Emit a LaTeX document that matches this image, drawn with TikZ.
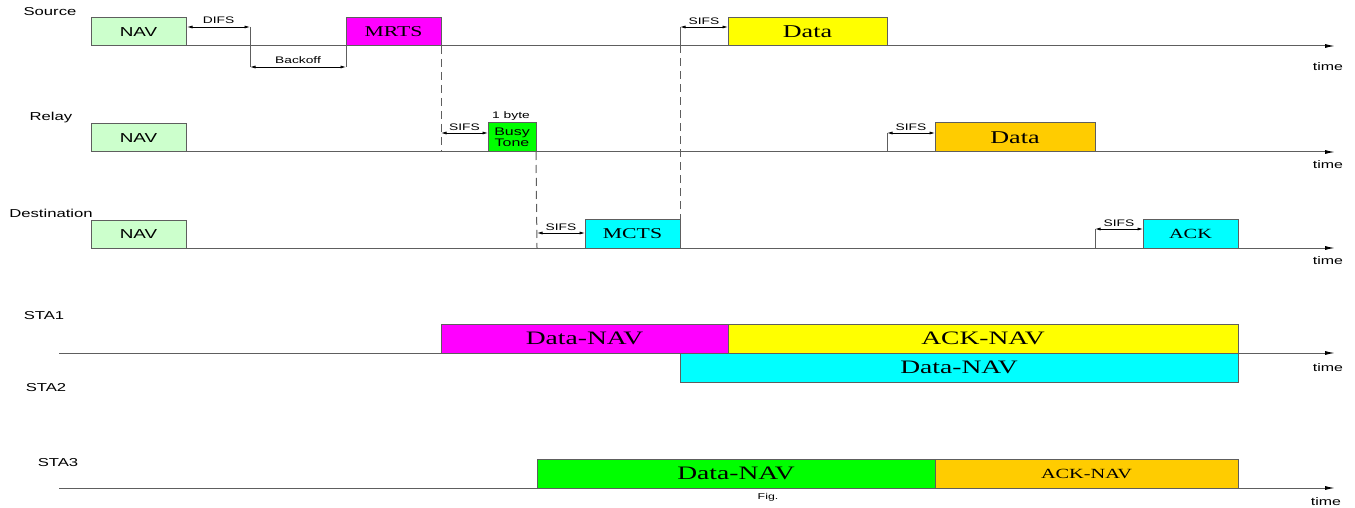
\documentclass[tikz,border=0pt]{standalone}
\usepackage{fontspec}
\setmainfont{Liberation Serif}[FakeStretch=1.45]
\newfontfamily\lsans{Liberation Sans}[FakeStretch=1.45]
\usetikzlibrary{arrows.meta}
\definecolor{navgreen}{HTML}{CCFFCC}
\definecolor{mag}{HTML}{FF00FF}
\definecolor{yel}{HTML}{FFFF00}
\definecolor{cya}{HTML}{00FFFF}
\definecolor{grn}{HTML}{00FF00}
\definecolor{ora}{HTML}{FFCC00}
\definecolor{linegray}{HTML}{5E5E5E}
\tikzset{
  box/.style={draw=linegray, line width=1pt, inner sep=0pt, outer sep=0pt, anchor=south west, text=black},
  tl/.style={draw=linegray, line width=1pt, -{Latex[length=10pt,width=4pt,black]}},
  lbl/.style={font=\lsans\fontsize{11.5}{12}\selectfont, inner sep=0pt},
  small/.style={font=\lsans\fontsize{9.5}{10}\selectfont, inner sep=0pt},
  tlabel/.style={font=\lsans\fontsize{11}{12}\selectfont, inner sep=0pt},
  dim/.style={draw=black, line width=0.7pt, {Latex[length=5.5pt,width=3pt]}-{Latex[length=5.5pt,width=3pt]}},
  vline/.style={draw=linegray, line width=1pt},
  dline/.style={draw=linegray, line width=1pt, dash pattern=on 8pt off 5pt},
}
\begin{document}
\begin{tikzpicture}[x=1pt,y=-1pt]
\useasboundingbox[fill=white] (0,0) rectangle (1355,508);
% row labels
\node[lbl] (lsrc) at (50,12) {Source};
\node[lbl] (lrel) at (51,118) {Relay};
\node[lbl] (ldst) at (51,213) {Destination};
\node[lbl] (lsta1) at (44,316) {STA1};
\node[lbl] (lsta2) at (46,388) {STA2};
\node[lbl] (lsta3) at (58,463) {STA3};
% timelines
\coordinate (s0) at (91,46); \coordinate (s1) at (1335,46);
\coordinate (r0) at (91,152); \coordinate (r1) at (1335,152);
\coordinate (d0) at (91,248); \coordinate (d1) at (1335,248);
\coordinate (a0) at (59,353); \coordinate (a1) at (1335,353);
\coordinate (c0) at (59,488); \coordinate (c1) at (1335,488);
\draw[tl] (s0) -- (s1);
\draw[tl] (r0) -- (r1);
\draw[tl] (d0) -- (d1);
\draw[tl] (a0) -- (a1);
\draw[tl] (c0) -- (c1);
\node[tlabel] (t1) at (1328,67) {time};
\node[tlabel] (t2) at (1328,165) {time};
\node[tlabel] (t3) at (1328,261) {time};
\node[tlabel] (t4) at (1328,368) {time};
\node[tlabel] (t5) at (1326,502) {time};
% Source
\node[box, fill=navgreen, minimum width=95pt, minimum height=28pt, font=\lsans\fontsize{13}{14}\selectfont] (snav) at (91,46) {NAV};
\node[box, fill=mag, minimum width=95pt, minimum height=28pt, font=\fontsize{15}{16}\selectfont] (mrts) at (346,46) {MRTS};
\node[box, fill=yel, minimum width=159pt, minimum height=28pt, font=\fontsize{18}{19}\selectfont] (sdata) at (728,46) {Data};
% Relay
\node[box, fill=navgreen, minimum width=95pt, minimum height=28pt, font=\lsans\fontsize{13}{14}\selectfont] (rnav) at (91,152) {NAV};
\node[box, fill=grn, minimum width=48pt, minimum height=29pt, font=\lsans\fontsize{11}{11}\selectfont, align=center] (busy) at (488,152) {Busy\\Tone};
\node[small] (byte) at (511,116) {1 byte};
\node[box, fill=ora, minimum width=160pt, minimum height=29pt, font=\fontsize{18}{19}\selectfont] (rdata) at (935,152) {Data};
% Destination
\node[box, fill=navgreen, minimum width=95pt, minimum height=28pt, font=\lsans\fontsize{13}{14}\selectfont] (dnav) at (91,248) {NAV};
\node[box, fill=cya, minimum width=95pt, minimum height=29pt, font=\fontsize{15}{16}\selectfont] (mcts) at (585,248) {MCTS};
\node[box, fill=cya, minimum width=95pt, minimum height=29pt, font=\fontsize{14}{15}\selectfont] (ack) at (1143,248) {ACK};
% STA boxes
\node[box, fill=mag, minimum width=287pt, minimum height=29pt, font=\fontsize{19}{20}\selectfont] (n1a) at (441,353) {Data-NAV};
\node[box, fill=yel, minimum width=510pt, minimum height=29pt, font=\fontsize{19}{20}\selectfont] (n1b) at (728,353) {ACK-NAV};
\node[box, fill=cya, minimum width=558pt, minimum height=29pt, font=\fontsize{19}{20}\selectfont] (n2) at (680,382) {Data-NAV};
\node[box, fill=grn, minimum width=398pt, minimum height=29pt, font=\fontsize{19}{20}\selectfont] (n3a) at (537,488) {Data-NAV};
\node[box, fill=ora, minimum width=303pt, minimum height=29pt, font=\fontsize{14}{15}\selectfont] (n3b) at (935,488) {ACK-NAV};
\node[small, font=\lsans\fontsize{8.5}{9}\selectfont] (fig) at (768,497) {Fig.};
% DIFS / Backoff
\coordinate (difsA) at (187,27); \coordinate (difsB) at (250,27);
\coordinate (boA) at (250,67); \coordinate (boB) at (346,67);
\draw[dim] (difsA) -- node[small, above=3pt] (difs) {DIFS} (difsB);
\draw[vline] (difsB) -- (boA);
\draw[dim] (boA) -- node[small, above=3pt] (bo) {Backoff} (boB);
\draw[vline] (boB) -- (mrts.south west);
% dashed connections
\coordinate (rx441) at (441,152);
\draw[dline] (mrts.south east) -- (rx441);
\coordinate (dx537) at (537,248);
\draw[dline] (busy.south east) -- (dx537);
\coordinate (sx680) at (680,46);
\draw[dline] (mcts.south east) -- (sx680);
% SIFS arrows
\coordinate (rs1) at (441,133);
\draw[dim] (rs1) -- node[small, above=2pt] (sifs1) {SIFS} (rs1 -| busy.west);
\coordinate (ds1) at (537,233);
\draw[dim] (ds1) -- node[small, above=2pt] (sifs2) {SIFS} (ds1 -| mcts.west);
\coordinate (ss1) at (680,27);
\draw[vline] (sx680) -- (ss1);
\draw[dim] (ss1) -- node[small, above=2pt] (sifs3) {SIFS} (ss1 -| sdata.west);
\coordinate (rs2b) at (887,152); \coordinate (rs2) at (887,133);
\draw[vline] (rs2b) -- (rs2);
\draw[dim] (rs2) -- node[small, above=2pt] (sifs4) {SIFS} (rs2 -| rdata.west);
\coordinate (ds2b) at (1095,248); \coordinate (ds2) at (1095,229);
\draw[vline] (ds2b) -- (ds2);
\draw[dim] (ds2) -- node[small, above=2pt] (sifs5) {SIFS} (ds2 -| ack.west);
\end{tikzpicture}
\end{document}
